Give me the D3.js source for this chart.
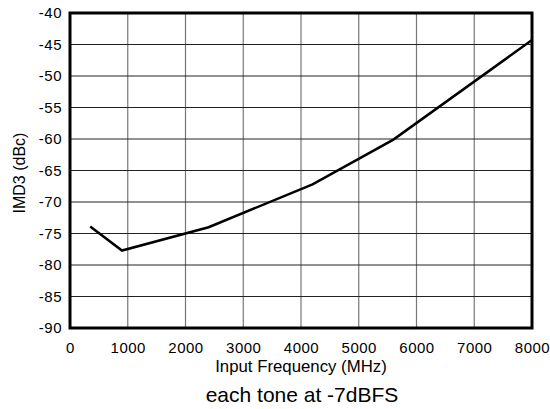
<!DOCTYPE html>
<html>
<head>
<meta charset="utf-8">
<script src="https://cdn.jsdelivr.net/npm/d3@7"></script>
<style>
  body { margin: 0; background: #fff; }
  text { font-family: "Liberation Sans", Arial, sans-serif; fill: #000; }
</style>
</head>
<body>
<div id="chart"></div>
<script>
// --- DATA ---
const freqMHz = [350, 900, 2400, 4200, 5600, 8000];
const imd3 = [-73.9, -77.7, -74.0, -67.2, -60.1, -44.3];
const xTicks = [0, 1000, 2000, 3000, 4000, 5000, 6000, 7000, 8000];
const yTicks = [-90, -85, -80, -75, -70, -65, -60, -55, -50, -45, -40];

const width = 550, height = 409;
const margin = {top: 13, right: 18, bottom: 81, left: 70};
const innerW = width - margin.left - margin.right;
const innerH = height - margin.top - margin.bottom;

const svg = d3.select("#chart").append("svg")
  .attr("width", width).attr("height", height);

const g = svg.append("g").attr("transform", `translate(${margin.left},${margin.top})`);

const x = d3.scaleLinear().domain([0, 8000]).range([0, innerW]);
const y = d3.scaleLinear().domain([-90, -40]).range([innerH, 0]);

// grid
g.selectAll(".vgrid").data(xTicks.slice(1, -1)).enter().append("line")
  .attr("x1", d => x(d)).attr("x2", d => x(d))
  .attr("y1", 0).attr("y2", innerH)
  .attr("stroke", "#777").attr("stroke-width", 1.2);

g.selectAll(".hgrid").data(yTicks.slice(1, -1)).enter().append("line")
  .attr("x1", 0).attr("x2", innerW)
  .attr("y1", d => y(d)).attr("y2", d => y(d))
  .attr("stroke", "#222").attr("stroke-width", 1);

// axes (labels only), plain hyphen minus like the original
const xAxis = g.append("g").attr("transform", `translate(0,${innerH})`)
  .call(d3.axisBottom(x).tickValues(xTicks).tickSize(0).tickPadding(14).tickFormat(d => String(d)));
const yAxis = g.append("g")
  .call(d3.axisLeft(y).tickValues(yTicks).tickSize(0).tickPadding(8).tickFormat(d => String(d)));
[xAxis, yAxis].forEach(a => {
  a.select(".domain").remove();
  a.selectAll("text").style("font-size", "15px").style("letter-spacing", "0.5px").attr("fill", "#000")
    .style("font-family", "'Liberation Sans', Arial, sans-serif");
});

// data line
g.append("path")
  .datum(freqMHz.map((f, i) => [f, imd3[i]]))
  .attr("fill", "none").attr("stroke", "#000").attr("stroke-width", 2.5)
  .attr("stroke-linejoin", "miter")
  .attr("d", d3.line().x(d => x(d[0])).y(d => y(d[1])));

// frame
g.append("rect")
  .attr("x", 0).attr("y", 0).attr("width", innerW).attr("height", innerH)
  .attr("fill", "none").attr("stroke", "#000").attr("stroke-width", 3);

// labels
svg.append("text")
  .attr("x", 301).attr("y", 372)
  .attr("text-anchor", "middle").style("font-size", "16.8px")
  .text("Input Frequency (MHz)");

svg.append("text")
  .attr("transform", "translate(25,173) rotate(-90)")
  .attr("text-anchor", "middle").style("font-size", "16px")
  .text("IMD3 (dBc)");

svg.append("text")
  .attr("x", 302).attr("y", 402)
  .attr("text-anchor", "middle").style("font-size", "21px")
  .text("each tone at -7dBFS");
</script>
</body>
</html>
